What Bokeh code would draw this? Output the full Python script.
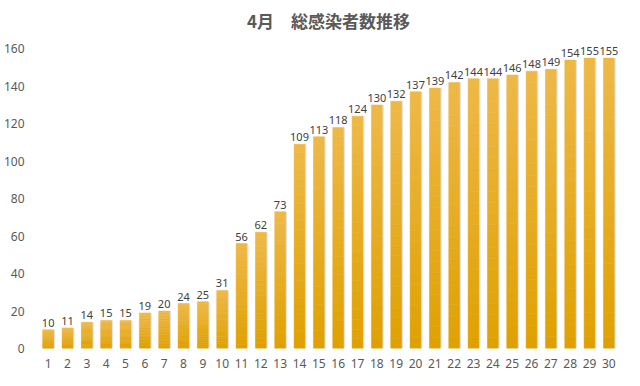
from bokeh.plotting import figure
from bokeh.models import ColumnDataSource, Range1d, FixedTicker, LabelSet
from bokeh.embed import file_html
from bokeh.resources import INLINE
from bokeh.core.properties import value

days = [str(d) for d in range(1, 31)]
totals = [10, 11, 14, 15, 15, 19, 20, 24, 25, 31, 56, 62, 73, 109, 113, 118,
          124, 130, 132, 137, 139, 142, 144, 144, 146, 148, 149, 154, 155, 155]
y_ticks = [0, 20, 40, 60, 80, 100, 120, 140, 160]
title_text = "4月　総感染者数推移"

p = figure(width=624, height=370, x_range=days, y_range=Range1d(0, 166),
           output_backend="svg", toolbar_location=None, title=title_text,
           min_border_left=34, min_border_right=6, min_border_bottom=0,
           min_border_top=4)
p.title.align = "center"
p.title.text_font = "Noto Sans CJK JP"
p.title.text_font_size = "17px"
p.title.text_font_style = "bold"
p.title.text_color = "#595959"
p.outline_line_color = None
p.xgrid.grid_line_color = None
p.ygrid.grid_line_color = None

# shadow
sh = ColumnDataSource(dict(x=[(d, 0.08) for d in days], top=totals))
p.vbar(x="x", top="top", width=0.56, source=sh, fill_color="#c8c8c8",
       fill_alpha=0.5, line_color=None)

# gradient bars via slices
N = 24
c_bot = (0xDF, 0xA1, 0x00)
c_top = (0xEE, 0xB8, 0x48)
xs, bots, tops, cols = [], [], [], []
for d, t in zip(days, totals):
    for i in range(N):
        f = (i + 0.5) / N
        c = tuple(int(round(c_bot[k] + (c_top[k] - c_bot[k]) * f)) for k in range(3))
        xs.append(d)
        bots.append(t * i / N)
        tops.append(t * (i + 1) / N)
        cols.append("#%02x%02x%02x" % c)
src = ColumnDataSource(dict(x=xs, bottom=bots, top=tops, color=cols))
p.vbar(x="x", bottom="bottom", top="top", width=0.56, source=src,
       fill_color="color", line_color="color", line_width=0.5)

lab = ColumnDataSource(dict(x=days, y=totals, t=[str(v) for v in totals]))
p.add_layout(LabelSet(x="x", y="y", text="t", source=lab, text_align="center",
                      text_baseline="bottom", y_offset=3, text_font_size="11px",
                      text_font=value("Noto Sans"), text_color="#404040"))

for ax in (p.xaxis, p.yaxis):
    ax.axis_line_color = None
    ax.major_tick_line_color = None
    ax.minor_tick_line_color = None
    ax.major_label_text_font = "Noto Sans"
    ax.major_label_text_font_size = "12px"
    ax.major_label_text_color = "#595959"
p.yaxis.ticker = FixedTicker(ticks=y_ticks)
p.yaxis.major_label_standoff = 8
p.xaxis.major_label_standoff = 4
p.x_range.range_padding = 0

open("out.html", "w").write(file_html(p, INLINE))
